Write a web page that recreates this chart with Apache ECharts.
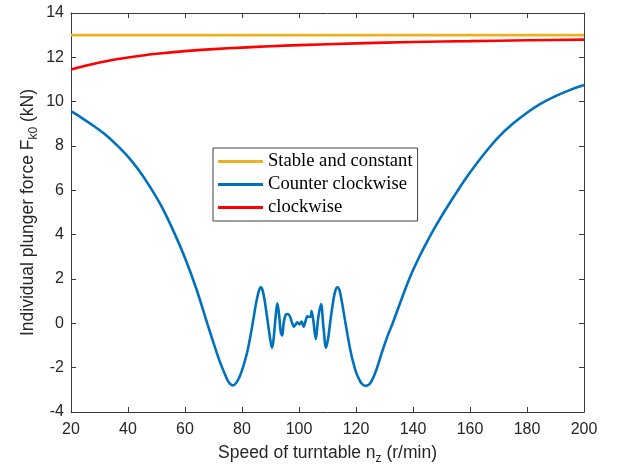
<!DOCTYPE html>
<html>
<head>
<meta charset="utf-8">
<script src="https://cdn.jsdelivr.net/npm/echarts@6/dist/echarts.min.js"></script>
<style>html,body{margin:0;padding:0;background:#fff}#c{width:621px;height:466px}</style>
</head>
<body>
<div id="c"></div>
<script>
// ---- data ----
var seriesNames = ['Stable and constant', 'Counter clockwise', 'clockwise'];
var xTicks = [20, 40, 60, 80, 100, 120, 140, 160, 180, 200];
var yTicks = [-4, -2, 0, 2, 4, 6, 8, 10, 12, 14];

var stableX = [20, 200];
var stableY = [13, 13];

var ccwX = [20,24,28,32,36,40,44,48,52,56,60,64,68,70,72,74,75,76,76.8,78,79,80,81,82,83,84,85,86,86.6,87.2,88,89,90,90.5,91,91.8,92.4,93,93.6,94.1,94.6,95.3,96,96.8,97.5,98.2,98.8,99.4,100.2,100.9,101.6,102.4,102.9,103.6,104.1,104.4,105,105.9,106.7,107.7,108.6,109.5,110.2,111,112,112.8,113.5,114.2,115,116,117,118,119,120,121,122,123.5,125,127,129,131,133,136,139,142,145,148,152,156,160,165,170,175,180,185,190,195,200];
var ccwY = [9.57,9.25,8.9,8.52,8.05,7.52,6.87,6.1,5.22,4.15,2.95,1.55,-0.08,-0.88,-1.65,-2.3,-2.58,-2.75,-2.8,-2.68,-2.45,-2.12,-1.7,-1.2,-0.55,0.2,0.95,1.5,1.63,1.5,1.0,0.1,-0.8,-1.1,-0.8,0.3,0.9,0.4,-0.4,-0.55,0.0,0.38,0.42,0.32,0.05,-0.15,-0.05,0.05,-0.05,0.08,-0.15,0.15,0.32,0.3,0.3,0.55,0.15,-0.7,0.2,0.87,-0.2,-1.1,-0.7,0.1,1.0,1.5,1.63,1.5,1.0,0.25,-0.5,-1.2,-1.75,-2.2,-2.5,-2.72,-2.82,-2.7,-2.15,-1.35,-0.6,0.05,1.1,2.1,2.95,3.7,4.4,5.25,6.05,6.8,7.65,8.4,9.0,9.5,9.92,10.25,10.52,10.75];

var cwX = [20,25,30,35,40,45,50,60,70,80,90,100,120,140,160,180,200];
var cwY = [11.45,11.62,11.77,11.89,11.99,12.08,12.16,12.28,12.37,12.44,12.5,12.55,12.63,12.69,12.73,12.77,12.8];

function pairs(xs, ys) { return xs.map(function (x, i) { return [x, ys[i]]; }); }

var axisColor = '#3a3a3a';
var textColor = '#262626';
var sansFont = 'Liberation Sans, Arial, sans-serif';

var chart = echarts.init(document.getElementById('c'), null, {renderer: 'canvas'});
var xMin = xTicks[0], xMax = xTicks[xTicks.length - 1], xInt = xTicks[1] - xTicks[0];
var yMin = yTicks[0], yMax = yTicks[yTicks.length - 1], yInt = yTicks[1] - yTicks[0];

function baseX(pos, showLabel) {
  return {
    type: 'value', position: pos, min: xMin, max: xMax, interval: xInt,
    axisLine: {show: true, onZero: false, lineStyle: {color: axisColor, width: 1}},
    axisTick: {show: true, inside: true, length: 5, lineStyle: {color: axisColor}},
    axisLabel: {show: showLabel, color: textColor, fontFamily: sansFont, fontSize: 16, margin: 10},
    splitLine: {show: false}
  };
}
function baseY(pos, showLabel) {
  return {
    type: 'value', position: pos, min: yMin, max: yMax, interval: yInt,
    axisLine: {show: true, onZero: false, lineStyle: {color: axisColor, width: 1}},
    axisTick: {show: true, inside: true, length: 5, lineStyle: {color: axisColor}},
    axisLabel: {show: showLabel, color: textColor, fontFamily: sansFont, fontSize: 16, margin: 7},
    splitLine: {show: false}
  };
}
var nameRich = {
  a: {fontFamily: sansFont, fontSize: 17.5, color: textColor, lineHeight: 24, verticalAlign: 'middle'},
  s: {fontFamily: sansFont, fontSize: 12, color: textColor, lineHeight: 10, verticalAlign: 'bottom'}
};

var xBottom = baseX('bottom', true);
xBottom.name = '{a|Speed of turntable n}{s|z}{a| (r/min)}';
xBottom.nameLocation = 'middle';
xBottom.nameGap = 29;
xBottom.nameMoveOverlap = false;
xBottom.nameTextStyle = {rich: nameRich};
var xTop = baseX('top', false);

var yLeft = baseY('left', true);
yLeft.name = '{a|Individual plunger force F}{s|k0}{a| (kN)}';
yLeft.nameLocation = 'middle';
yLeft.nameGap = 31;
yLeft.nameMoveOverlap = false;
yLeft.nameTextStyle = {rich: nameRich};
var yRight = baseY('right', false);

var colors = ['#EDB120', '#0072BD', '#FF0000'];
var datas = [pairs(stableX, stableY), pairs(ccwX, ccwY), pairs(cwX, cwY)];

chart.setOption({
  animation: false,
  backgroundColor: '#ffffff',
  grid: {left: 71, right: 37, top: 13, bottom: 54, containLabel: false, outerBoundsMode: 'none'},
  legend: {
    orient: 'vertical', left: 213, top: 148,
    data: seriesNames,
    icon: 'rect', itemWidth: 45, itemHeight: 3, itemGap: 2,
    padding: [3, 5, 3, 5],
    borderColor: '#404040', borderWidth: 1, backgroundColor: '#ffffff',
    textStyle: {fontFamily: 'Liberation Serif, Times New Roman, serif', fontSize: 18.6, color: '#000000', lineHeight: 21}
  },
  xAxis: [xBottom, xTop],
  yAxis: [yLeft, yRight],
  series: seriesNames.map(function (n, i) {
    return {
      name: n, type: 'line', xAxisIndex: 0, yAxisIndex: 0,
      data: datas[i], showSymbol: false, symbol: 'none',
      smooth: i === 1 ? 0.35 : 0.3,
      lineStyle: {color: colors[i], width: 2.6},
      itemStyle: {color: colors[i]},
      z: 2 + i
    };
  })
});
</script>
</body>
</html>
